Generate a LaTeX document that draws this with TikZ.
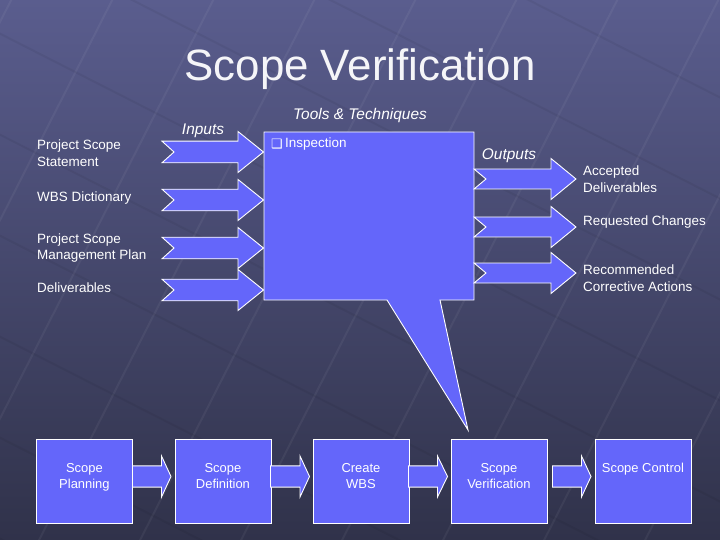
\documentclass[tikz,border=0pt]{standalone}
\usepackage{fontspec}
\setmainfont{Liberation Sans}
\newfontfamily\symfont{DejaVu Sans}
\usetikzlibrary{calc}
\definecolor{boxblue}{RGB}{100,102,250}
\definecolor{bgtop}{RGB}{90,93,142}
\definecolor{bgbot}{RGB}{48,50,74}
\newcommand\notcharrow[7]{% tail notch headstart tip yc shafthalf headhalf
  \draw[arrowsty] (#1,#5-#6) -- (#3,#5-#6) -- (#3,#5-#7) -- (#4,#5) -- (#3,#5+#7) -- (#3,#5+#6) -- (#1,#5+#6) -- (#2,#5) -- cycle;}
\newcommand\flatarrow[6]{% tail headstart tip yc shafthalf headhalf
  \draw[arrowsty] (#1,#4-#5) -- (#2,#4-#5) -- (#2,#4-#6) -- (#3,#4) -- (#2,#4+#6) -- (#2,#4+#5) -- (#1,#4+#5) -- cycle;}
\begin{document}
\begin{tikzpicture}[x=1bp,y=-1bp,
  arrowsty/.style={fill=boxblue,draw=white,line width=0.9pt,line join=miter},
  stepbox/.style={fill=boxblue,draw=white,line width=0.9pt,minimum width=96bp,minimum height=84bp,inner sep=0pt,anchor=north west},
  lbl/.style={text=white,font=\fontsize{13.5}{17}\selectfont,align=left,anchor=west,inner sep=0pt},
  ital/.style={text=white,font=\fontsize{15.5}{18}\selectfont\itshape,inner sep=0pt},
  boxtxt/.style={text=white,font=\fontsize{13}{16}\selectfont,align=center,anchor=north,inner sep=0pt}]
\useasboundingbox (0,0) rectangle (720,540);
% background
\shade[top color=bgtop,bottom color=bgbot] (0,0) rectangle (720,540);
\begin{scope}
  \clip (0,0) rectangle (720,540);
  \begin{scope}[rotate=-27,opacity=0.05]
    \foreach \i in {-800,-710,...,900} {\draw[white,line width=2pt] (\i,-600) -- (\i,900);}
    \foreach \j in {-600,-510,...,900} {\draw[black,line width=2pt] (-800,\j) -- (900,\j);}
  \end{scope}
\end{scope}
% title
\node[text=white!94!bgtop,font=\fontsize{44}{50}\selectfont,inner sep=0pt] (title) at (360,69) {Scope Verification};
% headings
\node[ital] (tools) at (360,116) {Tools \& Techniques};
\node[ital] (inputs) at (203,131) {Inputs};
\node[ital] (outputs) at (509,156) {Outputs};
% input arrows
\notcharrow{162}{174}{238}{263.5}{152}{10.8}{20.5}
\notcharrow{162}{174}{238}{263.5}{200}{10.8}{20.5}
\notcharrow{162}{174}{238}{263.5}{248}{10.8}{20.5}
\notcharrow{162}{174}{238}{263.5}{290}{10.8}{20.5}
% tools callout
\draw[arrowsty] (264,132) -- (474,132) -- (474,300) -- (440,300) -- (468,430) -- (387,300) -- (264,300) -- cycle;
\node[text=white,font=\symfont\fontsize{13}{14}\selectfont,inner sep=0pt,anchor=west] (bul) at (271,144) {❑};
\node[text=white,font=\fontsize{13.5}{16}\selectfont,inner sep=0pt,anchor=west] (insp) at (285,144) {Inspection};
% output arrows
\notcharrow{474}{486}{551}{576}{179}{10}{20.5}
\notcharrow{474}{486}{551}{576}{227}{10}{20.5}
\notcharrow{474}{486}{551}{576}{273}{10}{20.5}
% input labels
\node[lbl] (in1) at (37,153) {Project Scope\\Statement};
\node[lbl] (in2) at (37,198) {WBS Dictionary};
\node[lbl] (in3) at (37,248) {Project Scope\\Management Plan};
\node[lbl] (in4) at (37,288) {Deliverables};
% output labels
\node[lbl] (out1) at (583,179) {Accepted\\Deliverables};
\node[lbl] (out2) at (583,222) {Requested Changes};
\node[lbl] (out3) at (583,278) {Recommended\\Corrective Actions};
% bottom process boxes
\node[stepbox] (b1) at (36,438.5) {};
\node[stepbox] (b2) at (174.5,438.5) {};
\node[stepbox] (b3) at (312.5,438.5) {};
\node[stepbox] (b4) at (450.5,438.5) {};
\node[stepbox] (b5) at (594.5,438.5) {};
\node[boxtxt] (t1) at ($(b1.north)+(0,24.5)$) {Scope\\Planning};
\node[boxtxt] (t2) at ($(b2.north)+(0,24.5)$) {Scope\\Definition};
\node[boxtxt] (t3) at ($(b3.north)+(0,24.5)$) {Create\\WBS};
\node[boxtxt] (t4) at ($(b4.north)+(0,24.5)$) {Scope\\Verification};
\node[boxtxt] (t5) at ($(b5.north)+(0,24.5)$) {Scope Control};
% bottom arrows
\flatarrow{132.5}{161.5}{171}{476.5}{10.6}{20.5}
\flatarrow{270.5}{300}{309.5}{476.5}{10.6}{20.5}
\flatarrow{408.5}{437.5}{447.5}{476.5}{10.6}{20.5}
\flatarrow{552.5}{581.5}{591}{476.5}{10.6}{20.5}
\end{tikzpicture}
\end{document}
